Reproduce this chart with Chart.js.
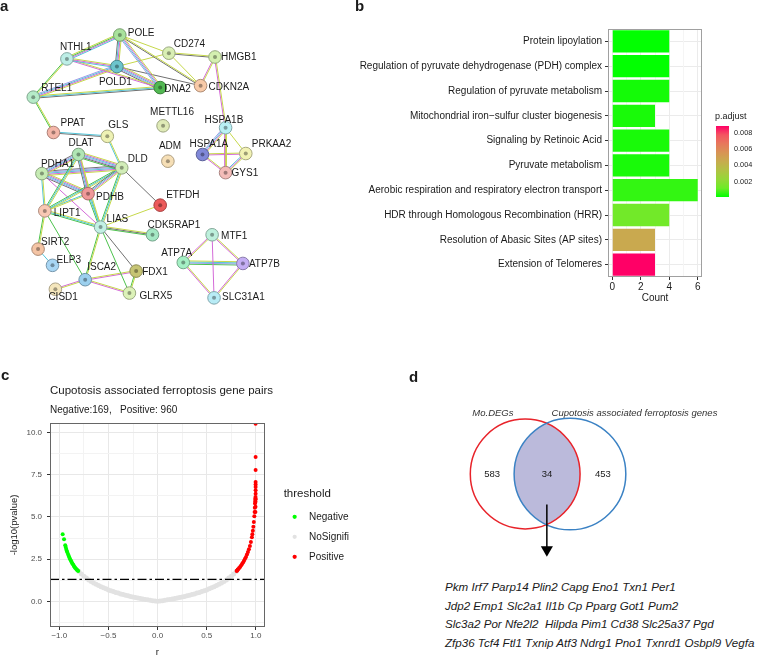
<!DOCTYPE html>
<html>
<head>
<meta charset="utf-8">
<title>Cuproptosis associated ferroptosis genes</title>
<script src="https://cdn.jsdelivr.net/npm/chart.js@4.4.1/dist/chart.umd.min.js"></script>
<style>
  html, body { margin: 0; padding: 0; background: #fff; }
  body { width: 758px; height: 658px; position: relative; overflow: hidden;
         font-family: "Liberation Sans", Arial, Helvetica, sans-serif; color: #1a1a1a; }
  .panel { position: absolute; }
  .tag { position: absolute; font-weight: bold; font-size: 15px; line-height: 15px; }
  .genes { position: absolute; left: 445px; top: 578px; font-style: italic;
           font-size: 11.6px; line-height: 18.5px; white-space: pre; color: #1a1a1a; }
</style>
</head>
<body>
<div class="panel" style="left:0;top:0;width:380px;height:330px"><canvas id="network"></canvas></div>
<div class="panel" style="left:340px;top:0;width:370px;height:330px"><canvas id="enrich"></canvas></div>
<div class="panel" style="left:700px;top:95px;width:58px;height:125px"><canvas id="padj"></canvas></div>
<div class="panel" style="left:0;top:330px;width:380px;height:328px"><canvas id="volcano"></canvas></div>
<div class="panel" style="left:380px;top:330px;width:378px;height:240px"><canvas id="venn"></canvas></div>
<div class="genes" id="genes"></div>

<div class="tag" style="left:0;top:-2px">a</div>
<div class="tag" style="left:355px;top:-2px">b</div>
<div class="tag" style="left:1px;top:367px">c</div>
<div class="tag" style="left:409px;top:369px">d</div>

<script>
// ---------- a: PPI network ----------
const nodeNames = ['POLE', 'NTHL1', 'CD274', 'HMGB1', 'POLD1', 'DNA2', 'CDKN2A', 'RTEL1', 'METTL16', 'HSPA1B',
  'PPAT', 'GLS', 'ADM', 'HSPA1A', 'PRKAA2', 'GYS1', 'DLAT', 'DLD', 'PDHA1', 'PDHB', 'ETFDH', 'LIPT1', 'LIAS',
  'CDK5RAP1', 'MTF1', 'SIRT2', 'ATP7A', 'ATP7B', 'ELP3', 'ISCA2', 'FDX1', 'CISD1', 'GLRX5', 'SLC31A1'];
// layout coordinates of the network (network units)
const nodeX = [117, 62, 168, 216, 114, 159, 201, 27, 162, 227, 48, 104, 167, 203, 248, 227, 74, 119, 36, 84,
  159, 39, 97, 151, 213, 32, 183, 245, 47, 81, 134, 50, 127, 215];
const nodeY = [29, 54, 48, 52, 62, 84, 82, 94, 124, 126, 131, 135, 161, 154, 153, 173, 154, 168, 174, 195,
  207, 213, 230, 238, 238, 253, 267, 268, 270, 285, 276, 295, 299, 304];
const nodeFill = ['#a8e29c', '#bdeee6', '#d9efb4', '#d4f0b0', '#6cc4cc', '#52b852', '#f8caa8', '#b5ebc8',
  '#dfeab6', '#b9f0f4', '#f4b6a8', '#eef2b4', '#f6dfb6', '#8088d8', '#f2f2b4', '#f4bcb8', '#b0e6b4', '#d2edb8',
  '#c6ebb4', '#f09898', '#ec5a5a', '#f8c8b4', '#c2f0e4', '#a4e8c4', '#bdf0dc', '#f4c4a4', '#a4f0c4', '#c4aef4',
  '#a8d6f4', '#9cd0ee', '#c6c474', '#f4e6bc', '#dcf2b8', '#b8ecf6'];
// evidence channels per interaction: T text mining, K co-expression, E experiments, D databases, H homology, N neighbourhood
const edges = [
  ['NTHL1', 'POLE', 'TNED'], ['NTHL1', 'POLD1', 'TED'], ['NTHL1', 'RTEL1', 'TN'], ['NTHL1', 'DNA2', 'TE'],
  ['POLE', 'POLD1', 'TEDK'], ['POLE', 'DNA2', 'TEDH'], ['POLE', 'CD274', 'T'], ['POLE', 'CDKN2A', 'TK'],
  ['POLD1', 'DNA2', 'TEDHK'], ['POLD1', 'CDKN2A', 'K'], ['POLD1', 'RTEL1', 'TEDH'], ['POLD1', 'CD274', 'T'],
  ['RTEL1', 'DNA2', 'TDK'], ['RTEL1', 'PPAT', 'TN'], ['CD274', 'HMGB1', 'TK'], ['CD274', 'CDKN2A', 'T'],
  ['HMGB1', 'CDKN2A', 'TE'], ['HMGB1', 'HSPA1B', 'TE'], ['HSPA1B', 'HSPA1A', 'TEDH'], ['HSPA1B', 'PRKAA2', 'T'],
  ['HSPA1B', 'GYS1', 'TE'], ['HSPA1A', 'PRKAA2', 'TE'], ['HSPA1A', 'GYS1', 'TE'], ['PRKAA2', 'GYS1', 'TED'],
  ['PPAT', 'GLS', 'DK'], ['GLS', 'DLD', 'TD'], ['DLAT', 'DLD', 'TEDHKN'], ['DLAT', 'PDHA1', 'TEDHK'],
  ['DLAT', 'PDHB', 'TEDK'], ['DLAT', 'LIPT1', 'TDN'], ['DLAT', 'LIAS', 'TD'], ['DLD', 'PDHA1', 'TEDHK'],
  ['DLD', 'PDHB', 'TEDK'], ['DLD', 'LIPT1', 'TDN'], ['DLD', 'LIAS', 'TDN'], ['DLD', 'ETFDH', 'K'],
  ['PDHA1', 'PDHB', 'TEDHK'], ['PDHA1', 'LIPT1', 'TD'], ['PDHA1', 'LIAS', 'E'], ['PDHB', 'LIPT1', 'TD'],
  ['PDHB', 'LIAS', 'TDN'], ['LIPT1', 'LIAS', 'TDN'], ['LIPT1', 'SIRT2', 'TN'], ['LIPT1', 'ISCA2', 'N'],
  ['LIAS', 'ETFDH', 'T'], ['LIAS', 'CDK5RAP1', 'TKN'], ['LIAS', 'ISCA2', 'TN'], ['LIAS', 'FDX1', 'K'],
  ['LIAS', 'GLRX5', 'N'], ['SIRT2', 'ELP3', 'D'], ['ISCA2', 'FDX1', 'TE'], ['ISCA2', 'GLRX5', 'TE'],
  ['ISCA2', 'CISD1', 'TE'], ['FDX1', 'GLRX5', 'TN'], ['MTF1', 'ATP7A', 'TE'], ['MTF1', 'ATP7B', 'TE'],
  ['MTF1', 'SLC31A1', 'E'], ['ATP7A', 'ATP7B', 'TDHN'], ['ATP7A', 'SLC31A1', 'TE'], ['ATP7B', 'SLC31A1', 'TE']
];

// ---------- b: enrichment ----------
const pathways = ['Protein lipoylation', 'Regulation of pyruvate dehydrogenase (PDH) complex',
  'Regulation of pyruvate metabolism', 'Mitochondrial iron\u2212sulfur cluster biogenesis',
  'Signaling by Retinoic Acid', 'Pyruvate metabolism', 'Aerobic respiration and respiratory electron transport',
  'HDR through Homologous Recombination (HRR)', 'Resolution of Abasic Sites (AP sites)', 'Extension of Telomeres'];
const geneCount = [4, 4, 4, 3, 4, 4, 6, 4, 3, 3];
const pAdjust = [0.00012, 0.00012, 0.0003, 0.00035, 0.00035, 0.00035, 0.0006, 0.0013, 0.0046, 0.0088];
const countTicks = [0, 1, 2, 3, 4, 5, 6];
const padjRange = [0.0001, 0.0088];
const padjTicks = [0.002, 0.004, 0.006, 0.008];

// ---------- c: correlation volcano ----------
const rTicks = [-1, -0.75, -0.5, -0.25, 0, 0.25, 0.5, 0.75, 1];
const logPTicks = [-1.25, 0, 1.25, 2.5, 3.75, 5, 6.25, 7.5, 8.75, 10];
const pCutoff = 1.301;
const negR = [-0.966, -0.952, -0.940, -0.935, -0.930, -0.925, -0.920, -0.912, -0.905, -0.898, -0.890, -0.882,
  -0.875, -0.868, -0.860, -0.852, -0.845, -0.838, -0.830, -0.822, -0.815, -0.808];
const negLogP = [3.97, 3.68, 3.32, 3.22, 3.10, 3.00, 2.92, 2.80, 2.70, 2.60, 2.50, 2.41,
  2.33, 2.25, 2.18, 2.10, 2.04, 1.98, 1.93, 1.88, 1.84, 1.80];
const nsR = [-0.800, -0.775, -0.750, -0.725, -0.700, -0.675, -0.650, -0.625, -0.600, -0.575, -0.550, -0.525,
  -0.500, -0.475, -0.450, -0.425, -0.400, -0.375, -0.350, -0.325, -0.300, -0.275, -0.250, -0.225, -0.200,
  -0.175, -0.150, -0.125, -0.100, -0.075, -0.050, -0.025, 0.000, 0.025, 0.050, 0.075, 0.100, 0.125, 0.150,
  0.175, 0.200, 0.225, 0.250, 0.275, 0.300, 0.325, 0.350, 0.375, 0.400, 0.425, 0.450, 0.475, 0.500, 0.525,
  0.550, 0.575, 0.600, 0.625, 0.650, 0.675, 0.700, 0.725, 0.750, 0.775, 0.800];
const nsLogP = [1.77, 1.62, 1.49, 1.38, 1.27, 1.18, 1.09, 1.01, 0.94, 0.87, 0.80, 0.74,
  0.68, 0.63, 0.58, 0.53, 0.49, 0.44, 0.40, 0.36, 0.33, 0.29, 0.26, 0.23, 0.20,
  0.17, 0.14, 0.11, 0.09, 0.07, 0.04, 0.02, 0.00, 0.02, 0.04, 0.07, 0.09, 0.11, 0.14,
  0.17, 0.20, 0.23, 0.26, 0.29, 0.33, 0.36, 0.40, 0.44, 0.49, 0.53, 0.58, 0.63, 0.68, 0.74,
  0.80, 0.87, 0.94, 1.01, 1.09, 1.18, 1.27, 1.38, 1.49, 1.62, 1.77];
const posR = [0.805, 0.810, 0.815, 0.820, 0.830, 0.840, 0.850, 0.860, 0.870, 0.880, 0.890, 0.900, 0.910,
  0.920, 0.930, 0.940, 0.950, 0.960, 0.965, 0.970, 0.975, 0.980, 0.985, 0.988, 0.990, 0.992, 0.994, 0.996,
  0.997, 0.996, 0.997, 0.997, 0.998, 0.998, 0.998, 0.998, 0.998, 0.998, 0.998, 0.998, 0.998];
const posLogP = [1.80, 1.83, 1.87, 1.90, 1.97, 2.04, 2.12, 2.21, 2.30, 2.40, 2.52, 2.63, 2.77,
  2.92, 3.09, 3.28, 3.52, 3.80, 3.98, 4.18, 4.42, 4.70, 5.05, 5.30, 5.55, 5.80, 5.95, 6.10,
  6.18, 5.30, 5.60, 5.90, 6.05, 6.38, 6.58, 6.78, 6.92, 7.07, 7.78, 8.56, 10.52];

// ---------- d: Venn ----------
const vennSets = ['Mo.DEGs', 'Cupotosis associated ferroptosis genes'];
const vennCounts = [583, 34, 453];
const overlapGenes = [
  'Pkm Irf7 Parp14 Plin2 Capg Eno1 Txn1 Per1',
  'Jdp2 Emp1 Slc2a1 Il1b Cp Pparg Got1 Pum2',
  'Slc3a2 Por Nfe2l2  Hilpda Pim1 Cd38 Slc25a37 Pgd',
  'Zfp36 Tcf4 Ftl1 Txnip Atf3 Ndrg1 Pno1 Txnrd1 Osbpl9 Vegfa'
];

// ---------- shared setup ----------
Chart.defaults.font.family = '"Liberation Sans", Arial, Helvetica, sans-serif';
Chart.defaults.color = '#1a1a1a';
Chart.defaults.animation = false;
Chart.defaults.events = [];
Chart.defaults.maintainAspectRatio = false;
Chart.defaults.plugins.legend.display = false;
Chart.defaults.plugins.tooltip.enabled = false;

const FONT = '"Liberation Sans", Arial, Helvetica, sans-serif';
const pts = (xs, ys) => xs.map((x, i) => ({x: x, y: ys[i]}));

function hexRgb(h) {
  return [1, 3, 5].map(i => parseInt(h.substr(i, 2), 16));
}
function shade(h, k) {
  return 'rgb(' + hexRgb(h).map(v => Math.round(v * (1 - k))).join(',') + ')';
}

// green -> pink colour scale (Lab-like stops)
const fillStops = ['#00ff00', '#6eeb27', '#95d738', '#b1c244', '#c7ac4e', '#d89455', '#e7785c', '#f45461', '#ff0066'];
function padjColor(p) {
  const t = Math.min(1, Math.max(0, (p - padjRange[0]) / (padjRange[1] - padjRange[0])));
  const pos = t * (fillStops.length - 1);
  const k = Math.min(Math.floor(pos), fillStops.length - 2);
  const f = pos - k;
  const a = hexRgb(fillStops[k]), b = hexRgb(fillStops[k + 1]);
  return 'rgb(' + a.map((v, i) => Math.round(v + (b[i] - v) * f)).join(',') + ')';
}

// frame around the plotting panel
function boxPlugin(color) {
  return {
    id: 'panelBox',
    afterDatasetsDraw(chart) {
      const a = chart.chartArea, ctx = chart.ctx;
      ctx.save();
      ctx.strokeStyle = color;
      ctx.lineWidth = 1;
      ctx.strokeRect(Math.round(a.left) + 0.5, Math.round(a.top) + 0.5,
        Math.round(a.right - a.left) - 1, Math.round(a.bottom - a.top) - 1);
      ctx.restore();
    }
  };
}

// titles anchored to the panel's top-left corner
function captionPlugin(items) {
  return {
    id: 'captions',
    afterDraw(chart) {
      const ctx = chart.ctx, a = chart.chartArea;
      ctx.save();
      ctx.textBaseline = 'middle';
      ctx.textAlign = 'left';
      items.forEach(it => {
        ctx.font = it.font;
        ctx.fillStyle = it.color || '#1a1a1a';
        ctx.fillText(it.text, a.left + it.dx, a.top + it.dy);
      });
      ctx.restore();
    }
  };
}

// ---------- a ----------
(function () {
  const strandColors = {T: '#c6d84a', K: '#707070', E: '#d46ad8', D: '#52c4d8', H: '#9c9ce8', N: '#4cc24c'};
  const labelDx = [8, -7, 5, 6, -18, 4, 8, 8, -13, -21, 7, 1, -9, -13, 6, 6, -10, 6, -1, 8, 6, 9, 6, -5, 9, 3,
    -22, 6, 4, 2, 6, -7, 10, 8];
  const labelDy = [-2, -12, -9, 0, 16, 2, 2, -9, -14, -7, -9, -11, -15, -10, -9, 1, -11, -9, -9, 4, -10, 2, -8,
    -10, 1, -7, -9, 1, -5, -12, 1, 8, 3, -1];

  const nodePts = pts(nodeX, nodeY);
  const datasets = [
    {type: 'scatter', data: nodePts, pointRadius: 2, backgroundColor: nodeFill.map(c => shade(c, 0.35)),
      borderWidth: 0, order: 0},
    {type: 'scatter', data: nodePts, pointRadius: 6.3, backgroundColor: nodeFill,
      borderColor: nodeFill.map(c => shade(c, 0.3)), borderWidth: 1, order: 0}
  ];
  edges.forEach(([a, b, kinds]) => {
    const i = nodeNames.indexOf(a), j = nodeNames.indexOf(b);
    const dx = nodeX[j] - nodeX[i], dy = nodeY[j] - nodeY[i];
    const len = Math.hypot(dx, dy);
    const nx = -dy / len, ny = dx / len;
    kinds.split('').forEach((k, s) => {
      const off = (s - (kinds.length - 1) / 2) * 1.15;
      datasets.push({
        type: 'line',
        data: [{x: nodeX[i] + nx * off, y: nodeY[i] + ny * off}, {x: nodeX[j] + nx * off, y: nodeY[j] + ny * off}],
        borderColor: strandColors[k], borderWidth: 1, pointRadius: 0, order: 1
      });
    });
  });

  const nodeLabels = {
    id: 'nodeLabels',
    afterDatasetsDraw(chart) {
      const meta = chart.getDatasetMeta(1), ctx = chart.ctx;
      ctx.save();
      ctx.font = '10px ' + FONT;
      ctx.fillStyle = '#1a1a1a';
      ctx.textBaseline = 'middle';
      ctx.textAlign = 'left';
      meta.data.forEach((p, i) => ctx.fillText(nodeNames[i], p.x + labelDx[i], p.y + labelDy[i]));
      ctx.restore();
    }
  };

  new Chart(document.getElementById('network'), {
    type: 'scatter',
    data: {datasets: datasets},
    options: {
      layout: {padding: 0},
      scales: {
        x: {type: 'linear', min: 0, max: 380, display: false},
        y: {type: 'linear', min: 0, max: 330, reverse: true, display: false}
      }
    },
    plugins: [nodeLabels]
  });
})();

// ---------- b ----------
new Chart(document.getElementById('enrich'), {
  type: 'bar',
  data: {
    labels: pathways,
    datasets: [{data: geneCount, backgroundColor: pAdjust.map(padjColor), borderWidth: 0,
      categoryPercentage: 0.9, barPercentage: 1}]
  },
  options: {
    indexAxis: 'y',
    layout: {padding: {top: 29, right: 8, bottom: 26, left: 0}},
    scales: {
      y: {
        grid: {offset: false, color: '#ebebeb', tickColor: '#333', tickLength: 3},
        border: {display: false},
        ticks: {font: {size: 10}, color: '#1a1a1a', padding: 3, autoSkip: false},
        afterFit(s) { s.width = 268; }
      },
      x: {
        min: -0.3, max: 6.3,
        afterBuildTicks(s) { s.ticks = countTicks.map(v => ({value: v})); },
        grid: {
          color: c => (c.tick && c.tick.value % 2 === 0) ? '#ebebeb' : '#f5f5f5',
          tickColor: c => (c.tick && c.tick.value % 2 === 0) ? '#333' : 'rgba(0,0,0,0)',
          tickLength: 3
        },
        border: {display: false},
        ticks: {font: {size: 10}, color: '#1a1a1a', padding: 1, autoSkip: false, maxRotation: 0,
          callback: v => (v % 2 === 0 ? String(v) : '')},
        title: {display: true, text: 'Count', font: {size: 10}, color: '#1a1a1a', padding: 0},
        afterFit(s) { s.height = 27; }
      }
    }
  },
  plugins: [boxPlugin('#a0a0a0')]
});

new Chart(document.getElementById('padj'), {
  type: 'bar',
  data: {
    labels: ['p.adjust'],
    datasets: [{
      data: [[padjRange[0], padjRange[1]]],
      backgroundColor(c) {
        const area = c.chart.chartArea;
        if (!area) return fillStops[0];
        const g = c.chart.ctx.createLinearGradient(0, area.bottom, 0, area.top);
        fillStops.forEach((col, k) => g.addColorStop(k / (fillStops.length - 1), col));
        return g;
      },
      borderWidth: 0, barPercentage: 1, categoryPercentage: 1
    }]
  },
  options: {
    layout: {padding: {top: 31, left: 16, right: 0, bottom: 23}},
    scales: {
      x: {display: false},
      y: {
        position: 'right', min: padjRange[0], max: padjRange[1],
        afterBuildTicks(s) { s.ticks = padjTicks.map(v => ({value: v})); },
        grid: {display: false, drawTicks: false},
        border: {display: false},
        ticks: {font: {size: 7.3}, color: '#1a1a1a', padding: 5, autoSkip: false, callback: v => v.toFixed(3)},
        afterFit(s) { s.width = 29; }
      }
    }
  },
  plugins: [captionPlugin([{text: 'p.adjust', dx: -1, dy: -9, font: '9px ' + FONT}])]
});

// ---------- c ----------
const isMajorR = v => Math.abs(v * 2 - Math.round(v * 2)) < 1e-6;
const isMajorP = v => Math.abs(v / 2.5 - Math.round(v / 2.5)) < 1e-6;
const rMin = -1.095, rMax = 1.09;

new Chart(document.getElementById('volcano'), {
  type: 'scatter',
  data: {
    datasets: [
      {label: 'Negative', data: pts(negR, negLogP), backgroundColor: '#00ff00', borderColor: '#00ff00',
        pointRadius: 2, borderWidth: 0, order: 1},
      {label: 'NoSignifi', data: pts(nsR, nsLogP), backgroundColor: '#e2e2e2', borderColor: '#e2e2e2',
        pointRadius: 2.5, borderWidth: 0, order: 3},
      {label: 'Positive', data: pts(posR, posLogP), backgroundColor: '#ff0000', borderColor: '#ff0000',
        pointRadius: 2, borderWidth: 0, order: 1},
      {label: 'cutoff', type: 'line', data: [{x: rMin, y: pCutoff}, {x: rMax, y: pCutoff}],
        borderColor: '#000', borderWidth: 1.4, borderDash: [9, 3, 2.5, 3], pointRadius: 0, order: 0}
    ]
  },
  options: {
    layout: {padding: {top: 93, right: 21, bottom: 0, left: 0}},
    scales: {
      x: {
        type: 'linear', min: rMin, max: rMax,
        afterBuildTicks(s) { s.ticks = rTicks.map(v => ({value: v})); },
        grid: {
          color: c => (c.tick && isMajorR(c.tick.value)) ? '#e8e8e8' : '#f3f3f3',
          tickColor: c => (c.tick && isMajorR(c.tick.value)) ? '#333' : 'rgba(0,0,0,0)',
          tickLength: 3
        },
        border: {display: false},
        ticks: {font: {size: 8}, color: '#4d4d4d', padding: 1, autoSkip: false, maxRotation: 0,
          callback: v => isMajorR(v) ? (v < 0 ? '\u2212' : '') + Math.abs(v).toFixed(1) : ''},
        title: {display: true, text: 'r', font: {size: 9.5}, color: '#1a1a1a', padding: 0},
        afterFit(s) { s.height = 31; }
      },
      y: {
        type: 'linear', min: -1.52, max: 10.57,
        afterBuildTicks(s) { s.ticks = logPTicks.map(v => ({value: v})); },
        grid: {
          color: c => (c.tick && isMajorP(c.tick.value)) ? '#e8e8e8' : '#f3f3f3',
          tickColor: c => (c.tick && isMajorP(c.tick.value)) ? '#333' : 'rgba(0,0,0,0)',
          tickLength: 3
        },
        border: {display: false},
        ticks: {font: {size: 8}, color: '#4d4d4d', padding: 5, autoSkip: false,
          callback: v => isMajorP(v) ? v.toFixed(1) : ''},
        title: {display: true, text: '-log10(pvalue)', font: {size: 9.5}, color: '#1a1a1a', padding: {top: 9, bottom: 0}},
        afterFit(s) { s.width = 50; }
      },
      yLegendGap: {
        type: 'linear', position: 'right', display: true,
        grid: {display: false, drawTicks: false}, border: {display: false}, ticks: {display: false},
        afterFit(s) { s.width = 19; }
      }
    },
    plugins: {
      legend: {
        display: true, position: 'right', align: 'start', maxWidth: 120,
        title: {display: true, text: 'threshold', font: {size: 11.5}, color: '#1a1a1a',
          padding: {top: 65, bottom: 0}, position: 'start'},
        labels: {
          usePointStyle: true, pointStyle: 'circle', boxWidth: 2, boxHeight: 3, padding: 10,
          font: {size: 10}, color: '#1a1a1a',
          filter: item => item.datasetIndex < 3,
          sort: (a, b) => a.datasetIndex - b.datasetIndex,
          generateLabels(chart) {
            return Chart.defaults.plugins.legend.labels.generateLabels(chart)
              .map(l => Object.assign(l, {text: '   ' + l.text}));
          }
        }
      }
    }
  },
  plugins: [boxPlugin('#666'), captionPlugin([
    {text: 'Cupotosis associated ferroptosis gene pairs', dx: 0, dy: -32, font: '11.5px ' + FONT},
    {text: 'Negative:169,   Positive: 960', dx: 0, dy: -13, font: '10px ' + FONT}
  ])]
});

// ---------- d ----------
(function () {
  const circles = [{x: 523.5, y: 475.5, r: 57, color: '#e8232a'}, {x: 570, y: 475.5, r: 58, color: '#3b82c4'}];
  const setLabelPos = [{x: 490, y: 411}, {x: 637, y: 411}];
  const arrow = {x: 546, top: 508, bottom: 553, head: 556};

  const vennPlugin = {
    id: 'venn',
    beforeDatasetsDraw(chart) {
      const {ctx, scales: {x, y}} = chart;
      const c = circles.map(o => ({
        cx: x.getPixelForValue(o.x), cy: y.getPixelForValue(o.y),
        r: x.getPixelForValue(o.x + o.r) - x.getPixelForValue(o.x), color: o.color
      }));
      ctx.save();
      ctx.beginPath(); ctx.arc(c[0].cx, c[0].cy, c[0].r, 0, Math.PI * 2); ctx.clip();
      ctx.beginPath(); ctx.arc(c[1].cx, c[1].cy, c[1].r, 0, Math.PI * 2);
      ctx.fillStyle = '#bbbadb'; ctx.fill();
      ctx.restore();
      ctx.save();
      ctx.lineWidth = 1.5;
      c.forEach(o => { ctx.beginPath(); ctx.arc(o.cx, o.cy, o.r, 0, Math.PI * 2); ctx.strokeStyle = o.color; ctx.stroke(); });
      ctx.textAlign = 'center';
      ctx.textBaseline = 'middle';
      ctx.fillStyle = '#1a1a1a';
      ctx.font = '9.5px ' + FONT;
      const aL = c[0].cx - c[0].r, aR = c[0].cx + c[0].r, bL = c[1].cx - c[1].r, bR = c[1].cx + c[1].r;
      const cy = c[0].cy;
      ctx.fillText(String(vennCounts[0]), (aL + bL) / 2, cy);
      ctx.fillText(String(vennCounts[1]), (bL + aR) / 2, cy);
      ctx.fillText(String(vennCounts[2]), (aR + bR) / 2, cy);
      ctx.font = 'italic 9.5px ' + FONT;
      ctx.fillStyle = '#333';
      setLabelPos.forEach((p, i) => ctx.fillText(vennSets[i], x.getPixelForValue(p.x), y.getPixelForValue(p.y)));
      ctx.restore();
    }
  };

  new Chart(document.getElementById('venn'), {
    type: 'scatter',
    data: {
      datasets: [
        {type: 'line', data: [{x: arrow.x, y: arrow.top}, {x: arrow.x, y: arrow.bottom}],
          borderColor: '#000', borderWidth: 1.5, pointRadius: 0},
        {data: [{x: arrow.x, y: arrow.head}], pointStyle: 'triangle', rotation: 180, pointRadius: 7,
          backgroundColor: '#000', borderColor: '#000', borderWidth: 0}
      ]
    },
    options: {
      layout: {padding: 0},
      scales: {
        x: {type: 'linear', min: 380, max: 758, display: false},
        y: {type: 'linear', min: 330, max: 570, reverse: true, display: false}
      }
    },
    plugins: [vennPlugin]
  });

  document.getElementById('genes').textContent = overlapGenes.join('\n');
})();
</script>
</body>
</html>
